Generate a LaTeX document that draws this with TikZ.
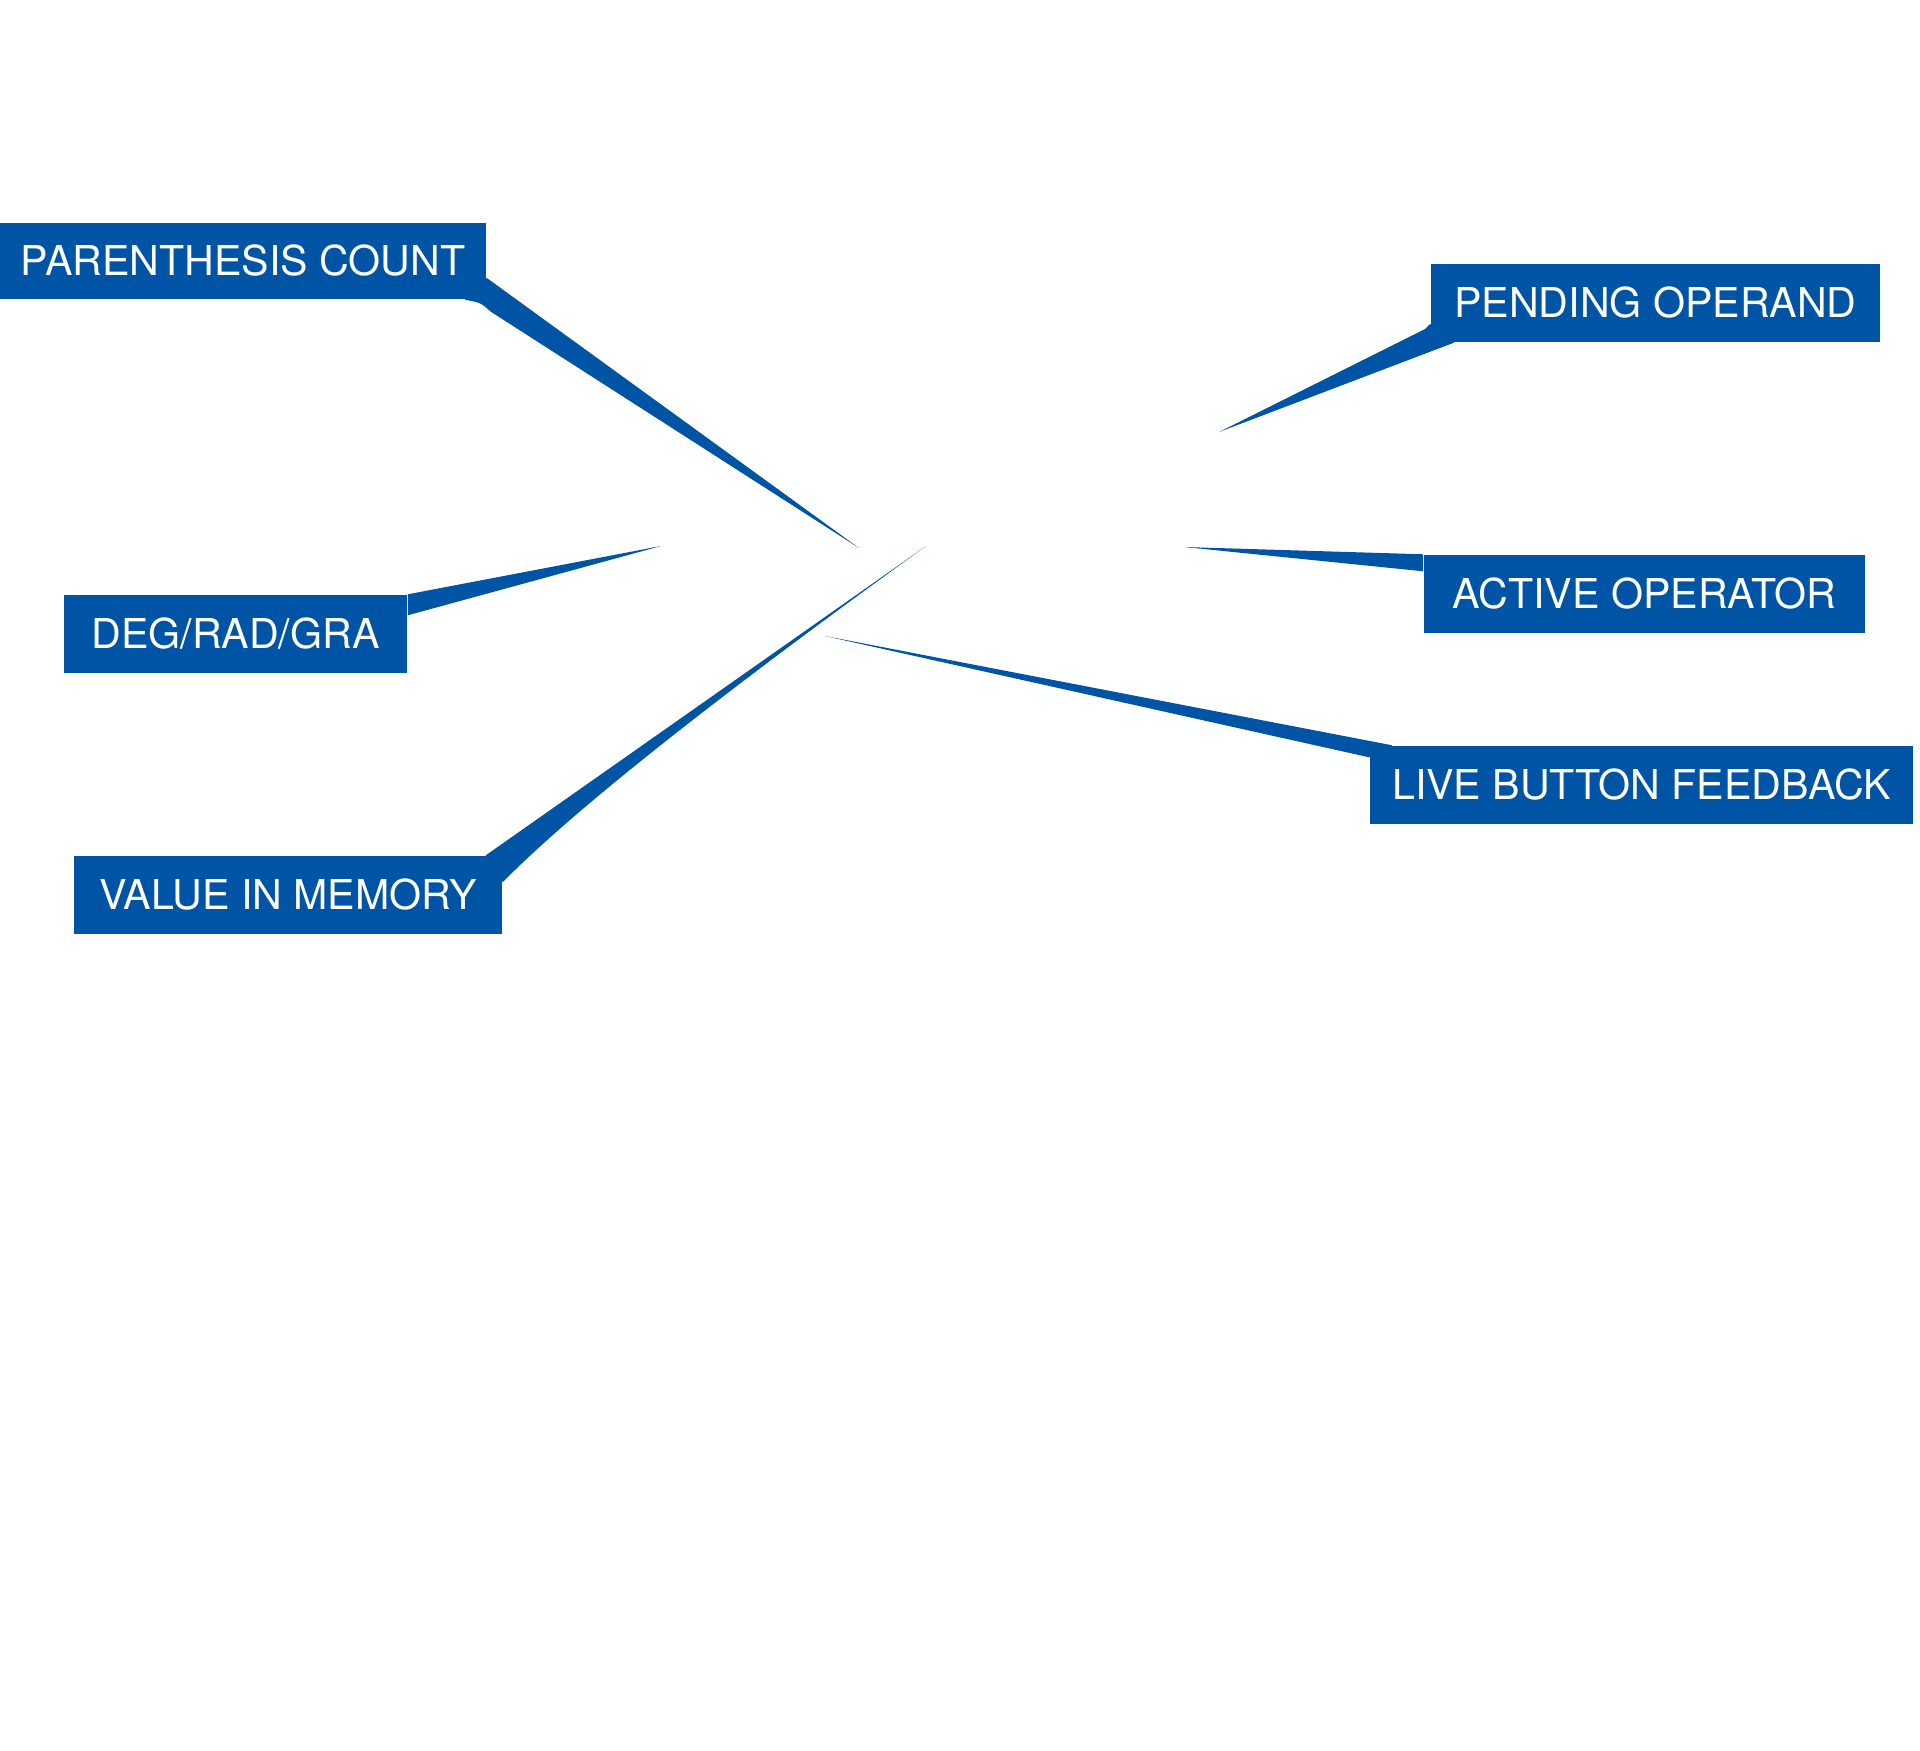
\documentclass[tikz,border=0pt]{standalone}
\usepackage{fontspec}
\setmainfont{TeX Gyre Heros}
\usetikzlibrary{calc}
\definecolor{tagblue}{RGB}{0,84,166}
\tikzset{
  tagbox/.style= {fill=tagblue, text=white, inner sep=0, minimum height=0.78cm,
    font=\fontsize{11.7}{13}\selectfont, text height=8.4pt, text depth=0pt},
  tagtail/.style= {fill=tagblue},
}

\begin{document}
\begin{tikzpicture}[x=0.01cm, y=-0.01cm]
  \useasboundingbox (0,0) rectangle (1920,1750);

  \node [tagbox, minimum width=4.86cm, minimum height=0.76cm] (pc) at (243,261) {PARENTHESIS COUNT} ;
  \node [tagbox, minimum width=4.49cm] (po) at (1655.5,303) {PENDING OPERAND} ;
  \node [tagbox, minimum width=4.41cm] (ao) at (1644.5,594) {ACTIVE OPERATOR} ;
  \node [tagbox, minimum width=5.43cm] (lb) at (1641.5,785) {LIVE BUTTON FEEDBACK} ;
  \node [tagbox, minimum width=3.43cm] (dr) at (235.5,634) {DEG/RAD/GRA} ;
  \node [tagbox, minimum width=4.28cm] (vm) at (288,895) {VALUE IN MEMORY} ;

  \coordinate (pc-tip) at (859,548) ;
  \coordinate (po-tip) at (1219,432) ;
  \coordinate (ao-tip) at (1184,547) ;
  \coordinate (lb-tip) at (825,636) ;
  \coordinate (dr-tip) at (661,546) ;
  \coordinate (vm-tip) at (926,546) ;

  \fill [tagtail] ($(pc.east)+(0,17)$) -- (pc-tip) -- ($(pc.south east)+(4,12)$)
    .. controls ($(pc.south east)+(-6,3)$) .. ($(pc.south east)+(-22,0)$) -- cycle ;
  \fill [tagtail] ($(po.west)+(0,21)$) -- ($(po.west)+(-5,26)$) -- (po-tip)
    -- ($(po.south west)+(21,1)$) -- ($(po.south west)+(24,0)$) -- cycle ;
  \fill [tagtail] (ao.north west) -- (ao-tip) -- ($(ao.north west)+(0,17)$) -- cycle ;
  \fill [tagtail] ($(lb.north west)+(23,0)$) -- (lb-tip) -- ($(lb.north west)+(0,12)$) -- cycle ;
  \fill [tagtail] (dr.north east) -- (dr-tip) -- ($(dr.north east)+(0,21)$) -- cycle ;
  \fill [tagtail] ($(vm.north east)+(-17,0)$) -- (vm-tip)
    .. controls (717,697) and (575,809) .. ($(vm.east)+(0,-13)$) -- cycle ;
\end{tikzpicture}
\end{document}
